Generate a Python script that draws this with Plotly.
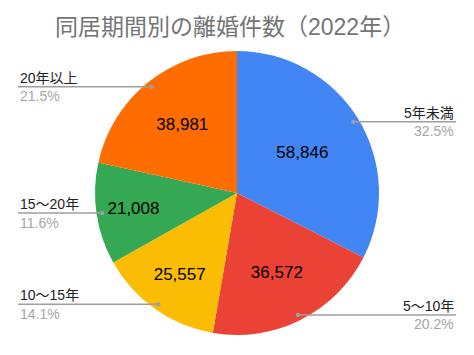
import math
import plotly.graph_objects as go

# ---- data ----
categories = ["5年未満", "5～10年", "10～15年", "15～20年", "20年以上"]
values = [58846, 36572, 25557, 21008, 38981]
colors = ["#4285F4", "#EA4335", "#FBBC04", "#34A853", "#FF6D01"]
title_text = "同居期間別の離婚件数（2022年）"

W, H = 474, 355
CX, CY, R = 237, 193, 142  # pie centre / radius in px (layout)
FONT = "Arial, 'Liberation Sans', 'Noto Sans CJK JP', sans-serif"

fig = go.Figure()
fig.add_trace(go.Pie(
    labels=categories,
    values=values,
    marker=dict(colors=colors, line=dict(width=0)),
    sort=False,
    direction="clockwise",
    rotation=0,
    textinfo="value",
    texttemplate="%{value:,}",
    textposition="inside",
    insidetextorientation="horizontal",
    textfont=dict(size=17, color="#000000", family=FONT),
    hoverinfo="skip",
    showlegend=False,
    domain=dict(x=[(CX - R) / W, (CX + R) / W],
                y=[1 - (CY + R) / H, 1 - (CY - R) / H]),
))

total = sum(values)
shapes = []
annotations = []
cum = 0.0
for cat, v in zip(categories, values):
    frac = v / total
    mid = (cum + frac / 2) * 2 * math.pi
    cum += frac
    r = 0.96 * R
    dx = CX + r * math.sin(mid)
    dy = CY - r * math.cos(mid)
    right = math.sin(mid) > 0
    x0, x1 = (dx, 456) if right else (18, dx)
    shapes.append(dict(type="line", xref="paper", yref="paper",
                       x0=x0 / W, x1=x1 / W, y0=1 - dy / H, y1=1 - dy / H,
                       line=dict(color="#9E9E9E", width=1.5)))
    shapes.append(dict(type="circle", xref="paper", yref="paper",
                       x0=(dx - 2.2) / W, x1=(dx + 2.2) / W,
                       y0=1 - (dy + 2.2) / H, y1=1 - (dy - 2.2) / H,
                       fillcolor="#9E9E9E", line=dict(width=0)))
    tx = 456 if right else 18
    anchor = "right" if right else "left"
    annotations.append(dict(x=tx / W, y=1 - (dy - 9) / H, xref="paper", yref="paper",
                            text=cat, showarrow=False, xanchor=anchor, yanchor="middle",
                            font=dict(size=14, color="#222222", family=FONT)))
    annotations.append(dict(x=tx / W, y=1 - (dy + 9.5) / H, xref="paper", yref="paper",
                            text=f"{frac * 100:.1f}%", showarrow=False, xanchor=anchor,
                            yanchor="middle",
                            font=dict(size=14, color="#A6A6A6", family=FONT)))

annotations.append(dict(x=230 / W, y=1 - 27 / H, xref="paper", yref="paper",
                        text=title_text, showarrow=False, xanchor="center", yanchor="middle",
                        font=dict(size=23, color="#757575", family=FONT)))

fig.update_layout(
    width=W, height=H,
    margin=dict(l=0, r=0, t=0, b=0),
    paper_bgcolor="white", plot_bgcolor="white",
    shapes=shapes, annotations=annotations,
)
fig.write_html("out.html")
